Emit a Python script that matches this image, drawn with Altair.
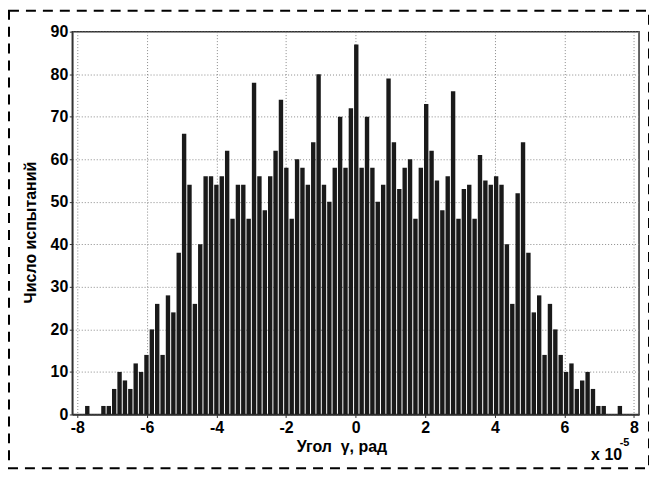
import altair as alt
import pandas as pd

# histogram counts, 100 bins
counts = [2, 0, 0, 2, 2, 6, 10, 8, 6, 12,
          10, 14, 20, 26, 14, 28, 24, 38, 66, 54,
          26, 40, 56, 56, 54, 56, 62, 46, 54, 54,
          46, 78, 56, 48, 56, 62, 74, 58, 46, 60,
          58, 54, 64, 80, 54, 50, 58, 70, 58, 72,
          87, 58, 70, 58, 50, 54, 79, 64, 53, 58,
          60, 46, 58, 73, 62, 55, 48, 56, 76, 46,
          53, 54, 46, 61, 55, 54, 56, 54, 40, 26,
          52, 64, 38, 24, 28, 14, 26, 20, 14, 10,
          12, 6, 8, 10, 6, 2, 2, 0, 0, 2]
data_range = [-7.79, 7.67]  # in units of 1e-5 rad
x_ticks = [-8, -6, -4, -2, 0, 2, 4, 6, 8]
y_ticks = [0, 10, 20, 30, 40, 50, 60, 70, 80, 90]

n = len(counts)
w = (data_range[1] - data_range[0]) / n
df = pd.DataFrame({
    "center": [data_range[0] + (i + 0.5) * w for i in range(n)],
    "count": counts,
})

FONT = "Liberation Sans"

bars = alt.Chart(df).mark_bar(size=4.4, color="#1a1a1a").encode(
    x=alt.X("center:Q",
            scale=alt.Scale(domain=[-8, 8], nice=False, zero=False),
            axis=alt.Axis(values=x_ticks, title="Угол\u00a0 γ, рад",
                          labelExpr="toString(datum.value)",
                          titleX=270, titleY=32, titleBaseline="middle",
                          labelPadding=2)),
    y=alt.Y("count:Q",
            scale=alt.Scale(domain=[0, 90], nice=False),
            axis=alt.Axis(values=y_ticks, title="Число испытаний",
                          labelExpr="toString(datum.value)",
                          titleX=-42, titleY=201, titleBaseline="middle",
                          titleAngle=270, labelPadding=1.5)),
)

exp_df = pd.DataFrame({"t": ["x 10"]})
exp_text = alt.Chart(exp_df).mark_text(
    font=FONT, fontWeight="bold", fontSize=16, align="center", baseline="middle", color="black"
).encode(text="t:N", x=alt.value(536), y=alt.value(425))

sup_df = pd.DataFrame({"t": ["-5"]})
sup_text = alt.Chart(sup_df).mark_text(
    font=FONT, fontWeight="bold", fontSize=11, align="center", baseline="middle", color="black"
).encode(text="t:N", x=alt.value(554), y=alt.value(413))

border = alt.Chart(exp_df).mark_rect(
    fill=None, stroke="black", strokeWidth=2, strokeDash=[10, 7]
).encode(x=alt.value(-63.5), x2=alt.value(578.5), y=alt.value(-21), y2=alt.value(438))

chart = alt.layer(bars, exp_text, sup_text, border).properties(
    width=568.5, height=384,
    autosize=alt.AutoSizeParams(type="none"),
    padding={"left": 64.5, "top": 23, "right": 10, "bottom": 60},
).configure_view(
    stroke="#333", strokeWidth=1.5
).configure_axis(
    labelFont=FONT, labelFontWeight="bold", labelFontSize=16, labelColor="black",
    titleFont=FONT, titleFontWeight="bold", titleFontSize=16, titleColor="black",
    grid=True, gridColor="#8a8a8a", gridDash=[1, 2], gridWidth=1,
    domainColor="#333", domainWidth=1.5,
    tickSize=3, tickColor="#333",
)

chart.save("out.html", embed_options={"renderer": "svg", "actions": False})
